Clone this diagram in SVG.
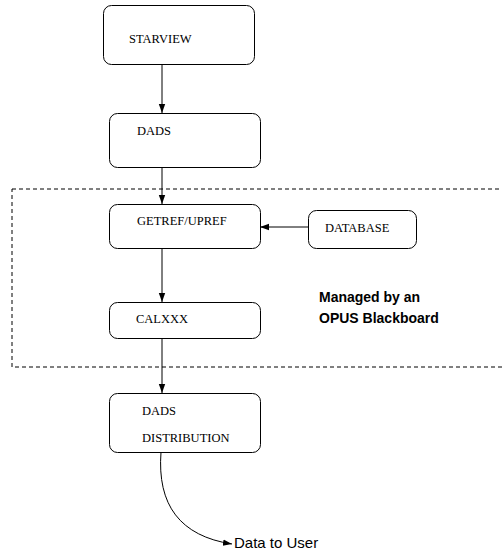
<svg xmlns="http://www.w3.org/2000/svg" width="502" height="552" viewBox="0 0 502 552">
<style>
.box{fill:#fff;stroke:#000;stroke-width:1}
.t{font-family:"Liberation Serif",serif;font-size:12.5px;fill:#000}
.s{font-family:"Liberation Sans",sans-serif;fill:#000}
.c{fill:none;stroke:#000;stroke-width:1}
</style>
<defs>
<marker id="ah" markerWidth="10" markerHeight="8" refX="9" refY="4" orient="auto" markerUnits="userSpaceOnUse">
<path d="M0,0.8 L9,4 L0,7.2 Z" fill="#000"/>
</marker>
</defs>
<rect x="12" y="189" width="520" height="178" fill="none" stroke="#000" stroke-width="1" stroke-dasharray="4,3"/>
<g id="connectors">
<line class="c" x1="162" y1="64" x2="162" y2="113" marker-end="url(#ah)"/>
<line class="c" x1="162" y1="167" x2="162" y2="204" marker-end="url(#ah)"/>
<line class="c" x1="308" y1="227" x2="260" y2="227" marker-end="url(#ah)"/>
<line class="c" x1="162" y1="248" x2="162" y2="302" marker-end="url(#ah)"/>
<line class="c" x1="162" y1="338" x2="162" y2="393" marker-end="url(#ah)"/>
<path class="c" d="M161,452 C157,505 180,536 232,544" marker-end="url(#ah)"/>
</g>
<g id="starview"><rect class="box" x="103.5" y="5.5" width="151" height="59" rx="8"/><text class="t" x="129" y="43">STARVIEW</text></g>
<g id="dads"><rect class="box" x="109.5" y="113.5" width="151" height="54" rx="8"/><text class="t" x="137" y="135">DADS</text></g>
<g id="getref"><rect class="box" x="109.5" y="204.5" width="151" height="44" rx="8"/><text class="t" x="137" y="225">GETREF/UPREF</text></g>
<g id="database"><rect class="box" x="308.5" y="210.5" width="108" height="38" rx="8"/><text class="t" x="325" y="232">DATABASE</text></g>
<g id="calxxx"><rect class="box" x="109.5" y="302.5" width="151" height="36" rx="8"/><text class="t" x="136" y="323">CALXXX</text></g>
<g id="distribution"><rect class="box" x="109.5" y="393.5" width="151" height="59" rx="8"/><text class="t" x="142" y="415">DADS</text><text class="t" x="142" y="442">DISTRIBUTION</text></g>
<g id="managed"><text class="s" x="319" y="302" font-size="14" font-weight="bold">Managed by an</text><text class="s" x="319" y="323" font-size="14" font-weight="bold">OPUS Blackboard</text></g>
<g id="user"><text class="s" x="234" y="548" font-size="15">Data to User</text></g>
</svg>
